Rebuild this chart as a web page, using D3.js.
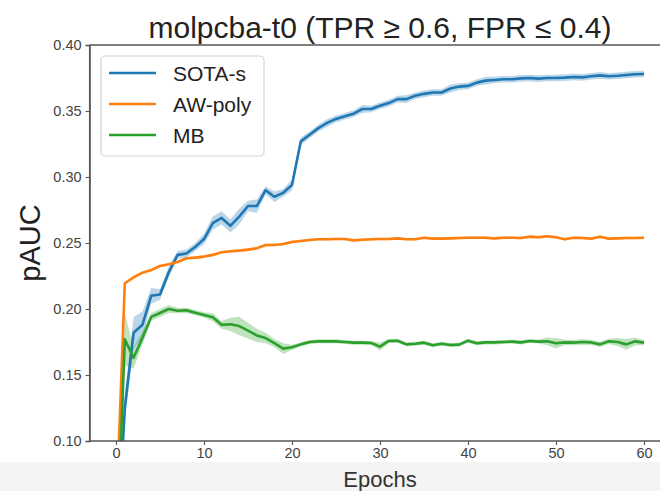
<!DOCTYPE html>
<html>
<head>
<meta charset="utf-8">
<script src="https://cdn.jsdelivr.net/npm/d3@7"></script>
<style>
  body { margin: 0; background: #fff; }
  svg text { font-family: "Liberation Sans", Arial, sans-serif; }
</style>
</head>
<body>
<div class="chart"></div>
<script>
// epochs 0..60
const epochs = d3.range(0, 61);

const sotaMean = [0.0, 0.125, 0.182, 0.188, 0.210, 0.211, 0.228, 0.241, 0.242, 0.247,
  0.253, 0.265, 0.269, 0.263, 0.270, 0.278, 0.278, 0.290, 0.285, 0.288,
  0.294, 0.327, 0.332, 0.337, 0.341, 0.344, 0.346, 0.348, 0.3515, 0.3515,
  0.354, 0.356, 0.359, 0.359, 0.3616, 0.363, 0.364, 0.364, 0.367, 0.3685,
  0.369, 0.3715, 0.373, 0.3735, 0.374, 0.374, 0.3747, 0.375, 0.3745, 0.375,
  0.375, 0.3753, 0.3758, 0.3755, 0.3763, 0.377, 0.3763, 0.3767, 0.3773, 0.3778,
  0.378];
const sotaSpread = [0, 0.010, 0.012, 0.010, 0.006, 0.004, 0.004, 0.003, 0.003, 0.003,
  0.004, 0.005, 0.005, 0.005, 0.006, 0.004, 0.005, 0.003, 0.004, 0.003,
  0.004, 0.003, 0.0025, 0.0025, 0.003, 0.0025, 0.0025, 0.0025, 0.003, 0.0025,
  0.0025, 0.0025, 0.0025, 0.003, 0.0025, 0.0025, 0.0025, 0.0025, 0.003, 0.0025,
  0.0025, 0.0025, 0.003, 0.0025, 0.0025, 0.0025, 0.0025, 0.0025, 0.0025, 0.0025,
  0.0025, 0.0025, 0.0025, 0.0025, 0.0025, 0.0025, 0.0025, 0.0025, 0.0025, 0.0025,
  0.0025];

const awMean = [0.04, 0.2195, 0.224, 0.2275, 0.2295, 0.2326, 0.2339, 0.2356, 0.2384, 0.2389,
  0.2397, 0.241, 0.243, 0.2437, 0.2442, 0.245, 0.246, 0.2485, 0.2485, 0.2492,
  0.2508, 0.2515, 0.2523, 0.2528, 0.2528, 0.253, 0.253, 0.252, 0.2525, 0.2528,
  0.253, 0.253, 0.2535, 0.2528, 0.2528, 0.254, 0.2533, 0.2533, 0.2535, 0.2538,
  0.254, 0.254, 0.254, 0.2535, 0.254, 0.254, 0.2538, 0.2548, 0.2543, 0.2551,
  0.2543, 0.2528, 0.254, 0.2538, 0.2533, 0.2548, 0.2533, 0.2535, 0.2538, 0.2538,
  0.254];
const awSpread = [0.001, 0.001, 0.001, 0.001, 0.001, 0.001, 0.001, 0.001, 0.001, 0.001,
  0.001, 0.001, 0.001, 0.001, 0.001, 0.001, 0.001, 0.001, 0.001, 0.001,
  0.001, 0.001, 0.001, 0.001, 0.001, 0.001, 0.001, 0.001, 0.001, 0.001,
  0.001, 0.001, 0.001, 0.001, 0.001, 0.001, 0.001, 0.001, 0.001, 0.001,
  0.001, 0.001, 0.001, 0.001, 0.001, 0.001, 0.001, 0.001, 0.001, 0.001,
  0.001, 0.001, 0.001, 0.001, 0.001, 0.001, 0.001, 0.001, 0.001, 0.001,
  0.001];

const mbMean = [0.0, 0.177, 0.163, 0.178, 0.194, 0.197, 0.200, 0.1987, 0.199, 0.1972,
  0.1955, 0.1937, 0.188, 0.1884, 0.1871, 0.1836, 0.180, 0.178, 0.1742, 0.170,
  0.171, 0.1732, 0.175, 0.1755, 0.1755, 0.1755, 0.175, 0.1745, 0.1745, 0.1742,
  0.1715, 0.1758, 0.176, 0.1732, 0.1737, 0.1745, 0.1725, 0.1737, 0.1727, 0.173,
  0.176, 0.174, 0.1747, 0.1747, 0.175, 0.1753, 0.1747, 0.1758, 0.1753, 0.1755,
  0.174, 0.1747, 0.1745, 0.175, 0.1747, 0.1732, 0.1755, 0.175, 0.1732, 0.1755,
  0.1745];
const mbSpread = [0.03, 0.02, 0.008, 0.005, 0.003, 0.003, 0.003, 0.002, 0.002, 0.002,
  0.002, 0.003, 0.003, 0.005, 0.007, 0.006, 0.005, 0.004, 0.003, 0.004,
  0.002, 0.0015, 0.0015, 0.0015, 0.0015, 0.0015, 0.0015, 0.0015, 0.0015, 0.0015,
  0.003, 0.0015, 0.0015, 0.0015, 0.0015, 0.0015, 0.0015, 0.0015, 0.0015, 0.0015,
  0.0015, 0.0015, 0.0015, 0.0015, 0.0015, 0.0015, 0.0015, 0.0015, 0.0015, 0.003,
  0.004, 0.002, 0.002, 0.002, 0.002, 0.002, 0.002, 0.003, 0.004, 0.003,
  0.002];

const seriesNames = ["SOTA-s", "AW-poly", "MB"];
const seriesColors = ["#1f77b4", "#ff7f0e", "#2ca02c"];
const xTicks = [0, 10, 20, 30, 40, 50, 60];
const yTicks = [0.10, 0.15, 0.20, 0.25, 0.30, 0.35, 0.40];

const W = 660, H = 491;
const svg = d3.select('.chart').append('svg')
  .attr('width', W).attr('height', H);

// grey strip at the bottom of the screenshot
svg.append('rect').attr('x', 0).attr('y', 462).attr('width', W).attr('height', H - 462)
  .attr('fill', '#f4f4f4');

const x = d3.scaleLinear().domain([-3, 63]).range([89.6, 670.4]);
const y = d3.scaleLinear().domain([0.10, 0.40]).range([441, 45]);

svg.append('clipPath').attr('id', 'plotclip')
  .append('rect').attr('x', x(-3)).attr('y', y(0.40))
  .attr('width', x(63) - x(-3)).attr('height', y(0.10) - y(0.40));

const plot = svg.append('g').attr('clip-path', 'url(#plotclip)');

const series = [
  { mean: sotaMean, spread: sotaSpread },
  { mean: awMean, spread: awSpread },
  { mean: mbMean, spread: mbSpread }
];

series.forEach((s, i) => {
  const rows = epochs.map((e, k) => ({ e: e, m: s.mean[k], sd: s.spread[k] }));
  plot.append('path')
    .datum(rows)
    .attr('fill', seriesColors[i])
    .attr('fill-opacity', 0.3)
    .attr('d', d3.area()
      .x(d => x(d.e))
      .y0(d => y(d.m - d.sd))
      .y1(d => y(d.m + d.sd)));
});
series.forEach((s, i) => {
  plot.append('path')
    .datum(epochs.map((e, k) => ({ e: e, m: s.mean[k] })))
    .attr('fill', 'none')
    .attr('stroke', seriesColors[i])
    .attr('stroke-width', 2.6)
    .attr('stroke-linejoin', 'round')
    .attr('d', d3.line().x(d => x(d.e)).y(d => y(d.m)));
});

// spines: left, top, bottom
const spineColor = '#555';
svg.append('line').attr('x1', x(-3)).attr('x2', x(-3)).attr('y1', y(0.40)).attr('y2', y(0.10))
  .attr('stroke', spineColor).attr('stroke-width', 1.3);
svg.append('line').attr('x1', x(-3)).attr('x2', W).attr('y1', y(0.40)).attr('y2', y(0.40))
  .attr('stroke', spineColor).attr('stroke-width', 1.3);

// axes
const xAxis = svg.append('g')
  .attr('transform', `translate(0,${y(0.10)})`)
  .call(d3.axisBottom(x).tickValues(xTicks).tickSize(4).tickPadding(3).tickFormat(d3.format('d')));
const yAxis = svg.append('g')
  .attr('transform', `translate(${x(-3)},0)`)
  .call(d3.axisLeft(y).tickValues(yTicks).tickSize(4).tickPadding(4).tickFormat(d3.format('.2f')));

[xAxis, yAxis].forEach(a => {
  a.select('.domain').attr('stroke', spineColor).attr('stroke-width', 1.3);
  a.selectAll('.tick line').attr('stroke', spineColor).attr('stroke-width', 1.1);
  a.selectAll('.tick text').attr('fill', '#444').style('font-size', '14.5px');
});
// extend bottom spine to the right edge
xAxis.select('.domain').attr('d', `M${x(-3)},0H${W}`);

// title and labels
svg.append('text').attr('x', 380).attr('y', 38).attr('text-anchor', 'middle')
  .attr('fill', '#222').style('font-size', '30px')
  .text('molpcba-t0 (TPR \u2265 0.6, FPR \u2264 0.4)');

svg.append('text').attr('transform', 'translate(40,243) rotate(-90)')
  .attr('text-anchor', 'middle').attr('fill', '#222').style('font-size', '29px')
  .text('pAUC');

svg.append('text').attr('x', 380).attr('y', 487).attr('text-anchor', 'middle')
  .attr('fill', '#333').style('font-size', '22px')
  .text('Epochs');

// legend
const legend = svg.append('g');
legend.append('rect').attr('x', 101).attr('y', 56).attr('width', 163).attr('height', 100)
  .attr('rx', 4).attr('fill', '#fff').attr('fill-opacity', 0.85)
  .attr('stroke', '#d4d4d4').attr('stroke-width', 1.2);
seriesNames.forEach((name, i) => {
  const ly = 73 + i * 31;
  legend.append('line').attr('x1', 109).attr('x2', 156).attr('y1', ly).attr('y2', ly)
    .attr('stroke', seriesColors[i]).attr('stroke-width', 2.6);
  legend.append('text').attr('x', 173).attr('y', ly + 7.5)
    .attr('fill', '#222').style('font-size', '21px').text(name);
});
</script>
</body>
</html>
